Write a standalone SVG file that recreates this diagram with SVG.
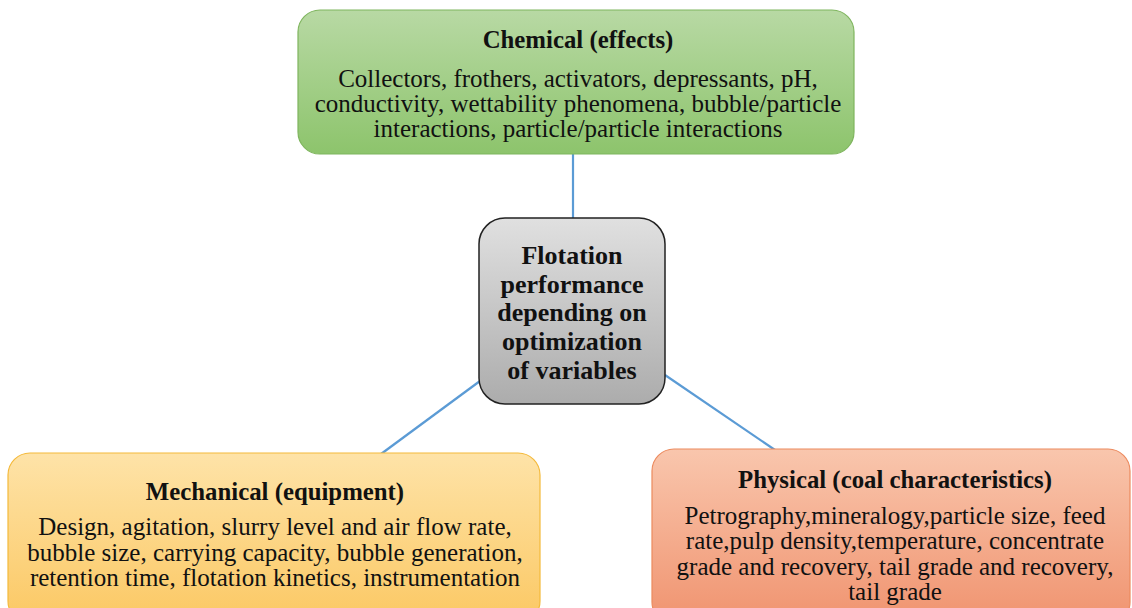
<svg xmlns="http://www.w3.org/2000/svg" width="1132" height="608" viewBox="0 0 1132 608">
<defs>
<linearGradient id="gGreen" x1="0" y1="0" x2="0" y2="1"><stop offset="0" stop-color="#b8d9a4"/><stop offset="1" stop-color="#8dc46c"/></linearGradient>
<linearGradient id="gGray" x1="0" y1="0" x2="0" y2="1"><stop offset="0" stop-color="#e0e0e0"/><stop offset="1" stop-color="#acacac"/></linearGradient>
<linearGradient id="gYellow" x1="0" y1="0" x2="0" y2="1"><stop offset="0" stop-color="#fee3a8"/><stop offset="1" stop-color="#fbc863"/></linearGradient>
<linearGradient id="gOrange" x1="0" y1="0" x2="0" y2="1"><stop offset="0" stop-color="#f9c6ad"/><stop offset="1" stop-color="#f0936f"/></linearGradient>
</defs>
<style>
text{font-family:"Liberation Serif","Times New Roman",serif;fill:#111;text-anchor:middle}
.t{font-weight:bold;font-size:24.8px}
.b{font-size:25px}
.c{font-weight:bold;font-size:26px}
.conn{stroke:#5b9bd5;stroke-width:2.2;fill:none}
</style>
<rect width="1132" height="608" fill="#fff"/>
<g id="connectors">
<line class="conn" x1="573" y1="154" x2="573" y2="219"/>
<line class="conn" x1="381" y1="454" x2="480" y2="381"/>
<line class="conn" x1="665" y1="375" x2="775" y2="450"/>
</g>
<g id="chemical">
<rect x="298" y="10" width="556" height="144" rx="22" fill="url(#gGreen)" stroke="#7fb55e" stroke-width="1.2"/>
<text class="t" x="578" y="48">Chemical (effects)</text>
<text class="b" x="578" y="86.5">Collectors, frothers, activators, depressants, pH,</text>
<text class="b" x="578" y="111.5">conductivity, wettability phenomena, bubble/particle</text>
<text class="b" x="578" y="136.5">interactions, particle/particle interactions</text>
</g>
<g id="center">
<rect x="479" y="218" width="186" height="186" rx="26" fill="url(#gGray)" stroke="#222" stroke-width="1.5"/>
<text class="c" x="572" y="264">Flotation</text>
<text class="c" x="572" y="292.5">performance</text>
<text class="c" x="572" y="321">depending on</text>
<text class="c" x="572" y="350">optimization</text>
<text class="c" x="572" y="379">of variables</text>
</g>
<g id="mechanical">
<rect x="8" y="453" width="532" height="170" rx="22" fill="url(#gYellow)" stroke="#f4b93a" stroke-width="1.2"/>
<text class="t" x="275" y="500">Mechanical (equipment)</text>
<text class="b" x="275" y="535">Design, agitation, slurry level and air flow rate,</text>
<text class="b" x="275" y="560.5">bubble size, carrying capacity, bubble generation,</text>
<text class="b" x="275" y="586">retention time, flotation kinetics, instrumentation</text>
</g>
<g id="physical">
<rect x="652" y="449" width="478" height="175" rx="22" fill="url(#gOrange)" stroke="#ec8a5e" stroke-width="1.2"/>
<text class="t" x="895" y="487.5">Physical (coal characteristics)</text>
<text class="b" x="895" y="523.5">Petrography,mineralogy,particle size, feed</text>
<text class="b" x="895" y="549">rate,pulp density,temperature, concentrate</text>
<text class="b" x="895" y="574.5">grade and recovery, tail grade and recovery,</text>
<text class="b" x="895" y="600">tail grade</text>
</g>
</svg>
